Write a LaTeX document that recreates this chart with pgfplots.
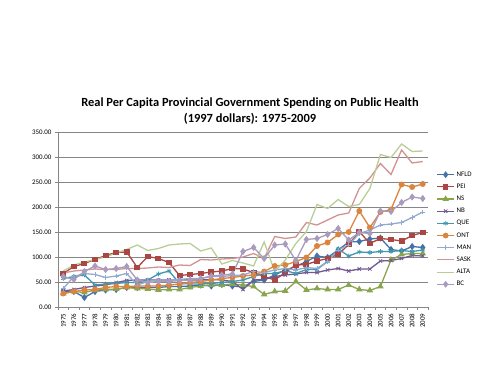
\documentclass[border=0pt]{standalone}
\usepackage{pgfplots}
\pgfplotsset{compat=1.18}
\usepackage{pgfplotstable}
\usepackage{fontspec}
\setmainfont{Carlito}
\definecolor{cNFLD}{HTML}{4572A7}
\definecolor{cPEI}{HTML}{AA4643}
\definecolor{cNS}{HTML}{89A54E}
\definecolor{cNB}{HTML}{71588F}
\definecolor{cQUE}{HTML}{4198AF}
\definecolor{cONT}{HTML}{DB843D}
\definecolor{cMAN}{HTML}{93A9CF}
\definecolor{cSASK}{HTML}{D19392}
\definecolor{cALTA}{HTML}{B9CD96}
\definecolor{cBC}{HTML}{A99BBD}
\definecolor{gridgray}{HTML}{868686}
\pgfplotstableread{
year NFLD PEI NS NB QUE ONT MAN SASK ALTA BC
1975 32 67 27 32 57 27 37 68 72 61
1976 31 81 31 35 61 31 61 72 84 55
1977 19 87 29 39 64 34 67 74 90 71
1978 31 95 34 42 44 35 65 76 95 82
1979 34 103 35 44 46 39 59 75 100 75
1980 35 109 36 49 47 41 62 75 108 77
1981 39 110 39 53 49 41 67 77 115 81
1982 39 79 37 54 49 42 44 77 124 54
1983 39 101 36 54 54 42 51 78 113 49
1984 39 97 34 54 66 42 54 80 117 51
1985 41 89 35 54 72 44 54 79 124 51
1986 41 63 35 55 47 46 55 84 126 53
1987 42 65 39 54 46 49 57 83 127 54
1988 44 67 42 54 46 51 57 95 112 57
1989 42 70 44 55 47 54 61 94 118 62
1990 45 72 44 54 49 57 61 96 86 64
1991 42 77 46 51 51 59 63 97 93 66
1992 40 76 44 35 54 62 64 100 88 111
1993 51 69 41 54 61 64 71 107 82 119
1994 54 61 25 55 67 71 69 97 130 97
1995 64 54 31 61 67 82 74 141 71 124
1996 74 69 32 64 73 84 77 137 94 126
1997 81 84 51 66 67 91 74 140 127 93
1998 91 85 34 69 75 99 79 169 151 135
1999 102 92 37 69 75 122 77 164 205 137
2000 99 97 35 74 91 129 91 174 197 145
2001 114 105 35 77 116 145 114 184 215 157
2002 130 125 44 72 102 150 124 188 201 134
2003 131 151 35 76 110 192 147 237 205 149
2004 136 127 33 76 109 159 154 258 237 147
2005 138 137 41 92 111 190 164 287 305 192
2006 115 135 94 93 111 195 166 265 299 191
2007 112 132 105 97 113 245 169 314 326 209
2008 121 143 107 103 111 240 179 288 311 220
2009 119 149 107 102 114 246 190 291 312 217
}\data
\begin{document}
\begin{tikzpicture}
\path[use as bounding box] (0,0) rectangle (500bp,375bp);
\node[align=center, font=\fontsize{12.5}{16}\selectfont\bfseries] at (250bp,264bp)
  {Real Per Capita Provincial Government Spending on Public Health\\(1997 dollars): 1975-2009};
\begin{axis}[
  at={(58bp,68bp)}, anchor=south west,
  scale only axis, width=370bp, height=175bp,
  xmin=1974.5, xmax=2009.5, ymin=0, ymax=350,
  axis x line*=bottom, axis y line*=left,
  axis line style={gridgray, line width=0.6pt},
  xtick={1975,...,2009},
  major x tick style={draw=none},
  minor xtick={1974.5,1975.5,...,2009.5},
  minor x tick style={gridgray, line width=0.5pt},
  minor tick length=3bp,
  xticklabel style={rotate=90, anchor=east, font=\fontsize{7}{8}\selectfont},
  x tick label style={/pgf/number format/1000 sep={}},
  ytick={0,50,...,350},
  ymajorgrids, grid style={gridgray, line width=0.6pt},
  major y tick style={gridgray}, major tick length=3bp,
  tick align=outside,
  yticklabel style={font=\fontsize{7}{8}\selectfont, /pgf/number format/.cd, fixed, fixed zerofill, precision=2},
  /pgf/number format/assume math mode=true,
  every axis plot/.append style={line width=1.3pt},
  legend style={at={(1.02,0.443)}, anchor=west, draw=none, fill=none,
    font=\fontsize{7}{8}\selectfont, row sep=2.2bp, inner sep=1pt},
  legend cell align=left,
  legend image post style={line width=1.1pt},
]
\addplot[color=cNFLD, mark=diamond*, mark size=2.6pt] table[x=year, y=NFLD] {\data};
\addlegendentry{NFLD}
\addplot[color=cPEI, mark=square*, mark size=2.3pt] table[x=year, y=PEI] {\data};
\addlegendentry{PEI}
\addplot[color=cNS, mark=triangle*, mark size=2.6pt] table[x=year, y=NS] {\data};
\addlegendentry{NS}
\addplot[color=cNB, mark=x, mark size=2.4pt, mark options={line width=0.8pt}] table[x=year, y=NB] {\data};
\addlegendentry{NB}
\addplot[color=cQUE, mark=asterisk, mark size=2.4pt, mark options={line width=0.8pt}] table[x=year, y=QUE] {\data};
\addlegendentry{QUE}
\addplot[color=cONT, mark=*, mark size=2.3pt] table[x=year, y=ONT] {\data};
\addlegendentry{ONT}
\addplot[color=cMAN, mark=+, mark size=2.4pt, mark options={line width=0.8pt}] table[x=year, y=MAN] {\data};
\addlegendentry{MAN}
\addplot[color=cSASK, no marks] table[x=year, y=SASK] {\data};
\addlegendentry{SASK}
\addplot[color=cALTA, no marks] table[x=year, y=ALTA] {\data};
\addlegendentry{ALTA}
\addplot[color=cBC, mark=diamond*, mark size=2.6pt] table[x=year, y=BC] {\data};
\addlegendentry{BC}
\end{axis}
\end{tikzpicture}
\end{document}
